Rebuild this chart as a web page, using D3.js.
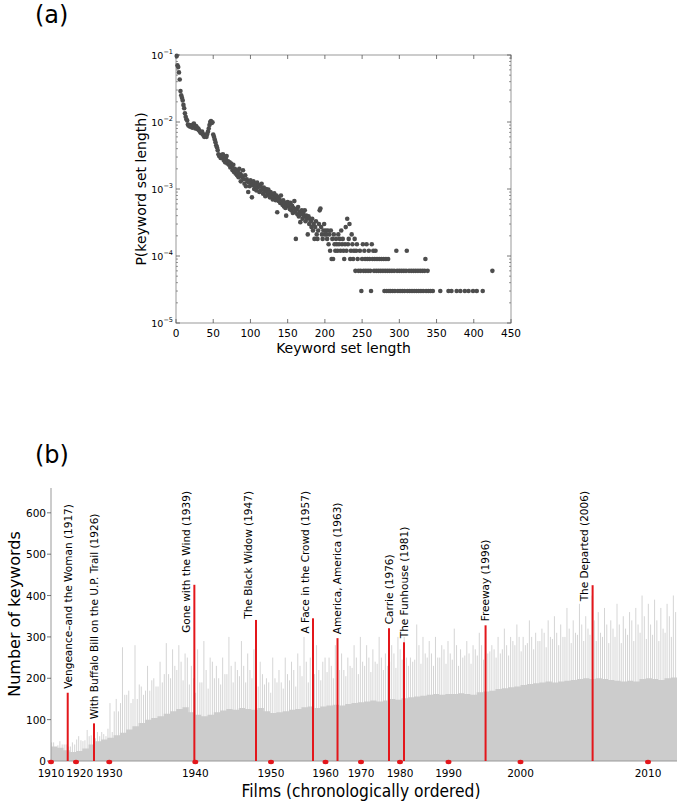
<!DOCTYPE html>
<html><head><meta charset="utf-8">
<script src="https://cdn.jsdelivr.net/npm/d3@7"></script>
<style>body{margin:0;background:#fff} svg{display:block} text{font-family:"DejaVu Sans",sans-serif;fill:#000}</style>
</head><body>
<svg id="chart" width="685" height="802"></svg>
<script>
// ---------- Panel (a) data ----------
const headProbs = [
 0.097,0.070,0.066,0.055,0.043,0.029,0.025,0.023,0.021,0.018,
 0.016,0.0135,0.012,0.011,0.0105,0.0092,0.0088,0.0090,0.0085,0.0089,
 0.0087,0.0082,0.0092,0.0095,0.0088,0.0080,0.0087,0.0083,0.0078,0.0080,
 0.0075,0.0072,0.0070,0.0068,0.0072,0.0066,0.0063,0.0060,0.0065,0.0062,
 0.0060,0.0066,0.0072,0.0080,0.0090,0.0100,0.0103,0.0097,0.0099,0.0065,
 0.0060,0.0055,0.0050,0.0045,0.0042,0.0038,0.0033,0.0031,0.0032,0.0029,
 3.2e-3,2.9e-3,3.3e-3,2.7e-3,3.0e-3,2.5e-3,2.8e-3,3.1e-3,2.4e-3,2.6e-3,
 2.3e-3,2.5e-3,2.1e-3,2.4e-3,2.2e-3,1.9e-3,2.3e-3,1.8e-3,2.0e-3,1.7e-3,
 1.9e-3,1.6e-3,1.8e-3,1.5e-3,2.0e-3,1.7e-3,1.3e-3,1.6e-3,1.5e-3,1.9e-3,
 1.4e-3,1.2e-3,1.6e-3,1.1e-3,1.4e-3,1.3e-3,9.0e-4,1.25e-3,1.1e-3,1.35e-3,
 1.2e-3,7.5e-4,1.15e-3,1.3e-3,1.0e-3,1.2e-3,1.1e-3,9.5e-4,1.25e-3,1.05e-3,
 1.15e-3,9e-4,1.1e-3,9.5e-4,1.2e-3,1.0e-3,8.5e-4,1.05e-3,9.5e-4,7.8e-4,
 1.0e-3,9e-4,8.2e-4,9.8e-4,8.8e-4,7.5e-4,9e-4,8.2e-4,8.5e-4,7e-4,
 7.8e-4,8.6e-4,7.2e-4,6.8e-4,8e-4,4.5e-4,7.5e-4,6.6e-4,7e-4,6.2e-4,
 8e-4,6.5e-4,5.8e-4,6.8e-4,5.5e-4,6.2e-4,5.2e-4,4e-4,5.8e-4,6.4e-4,
 5.5e-4,5.9e-4,5e-4,6.2e-4,4.8e-4,5.6e-4,4.4e-4,5.2e-4,6.6e-4,4.6e-4,
 1.8e-4,5.0e-4,4.2e-4,5.4e-4,3.9e-4,4.6e-4,3.2e-4,4.2e-4,4.8e-4,3.6e-4,
 4.4e-4,3.9e-4,4.8e-4,3.3e-4,4.0e-4,3.6e-4,2.1e-4,3.9e-4,3.0e-4,3.6e-4,
 3.3e-4,2.7e-4,3.6e-4,2.4e-4,3.0e-4,1.8e-4,2.7e-4,3.3e-4,2.1e-4,1.8e-4,
 2.4e-4,3.0e-4,4.8e-4,5.1e-4,2.7e-4,2.1e-4,1.8e-4,2.4e-4,3.0e-4,2.1e-4,
 2.4e-4,2.1e-4,1.8e-4,2.4e-4,1.5e-4,2.1e-4,1.2e-4,2.4e-4,9e-5,1.8e-4,
 9e-5,2.1e-4,1.5e-4,1.2e-4,1.8e-4,1.5e-4,1.2e-4,2.1e-4,1.5e-4,1.8e-4,
 1.2e-4,2.4e-4,1.5e-4,1.8e-4,1.2e-4,9e-5,1.5e-4,2.7e-4,1.2e-4,3.6e-4,
 1.5e-4,1.8e-4,3.0e-4,9e-5,1.2e-4,2.1e-4,1.5e-4,9e-5,1.2e-4,1.8e-4
];
const headLengths = d3.range(1, headProbs.length + 1);
const tailLevels = [3e-5, 6e-5, 9e-5, 1.2e-4, 1.5e-4];
const tailLengths = [
 [249,262,280,283,286,288,291,294,298,301,304,307,311,314,317,320,323,326,329,332,336,339,342,345,355,366,370,377,382,388,393,399,404,412],
 [241,245,248,252,255,258,261,266,269,272,275,278,281,284,287,290,293,297,300,303,306,309,313,316,319,322,325,328,331,334,338,425],
 [244,250,254,257,260,264,267,270,273,276,279,282,285,335],
 [242,247,253,259,265,268,296,310],
 [243,251,256,263]
];
const aXTicks = [0,50,100,150,200,250,300,350,400,450];
const aYExp = [-5,-4,-3,-2,-1];

// ---------- Panel (b) data ----------
const yearTicks = [1910,1920,1930,1940,1950,1960,1970,1980,1990,2000,2010];
const yearTickFilm = [0,399,931,2305,3514,4385,4952,5575,6350,7500,9537];
const bYTicks = [0,100,200,300,400,500,600];
const highlightTitles = ["Vengeance\u2013and the Woman (1917)","With Buffalo Bill on the U.P. Trail (1926)","Gone with the Wind (1939)","The Black Widow (1947)","A Face in the Crowd (1957)","America, America (1963)","Carrie (1976)","The Funhouse (1981)","Freeway (1996)","The Departed (2006)"];
const highlightFilm = [267,687,2290,3275,4185,4577,5399,5639,6942,8652];
const highlightKeywords = [165,91,426,341,345,297,321,287,328,425];
// background envelope, bins of 100 films (chronological order)
const binStart = d3.range(0, 10000, 100);
const bodyLevel = [35,32,26,22,24,30,40,48,52,56, 62,68,76,84,92,100,104,108,114,120,
 126,130,118,112,108,112,118,122,126,124, 128,126,124,128,120,116,118,120,124,126,
 130,132,128,132,134,136,134,138,140,142, 144,146,144,146,150,148,152,154,156,158,
 160,162,160,162,162,164,162,160,166,168, 170,174,176,178,180,184,186,188,190,192,
 190,192,194,196,198,200,198,200,198,196, 194,192,194,192,198,200,198,196,200,202];
const midLevel = [45,38,40,35,52,48,60,55,70,78, 120,140,160,150,185,170,195,180,210,200,
 220,195,185,165,190,175,200,185,210,190, 205,190,200,180,185,165,190,175,195,180,
 205,190,210,195,215,200,220,205,225,210, 230,215,235,220,240,225,245,230,245,235,
 250,230,250,235,245,230,255,235,255,245, 265,250,270,255,280,265,285,270,290,275,
 295,280,300,285,305,290,305,290,300,285, 300,285,305,290,310,295,305,290,310,300];
const peakA = [45,48,40,45,60,50,62,70,65,140, 150,275,170,280,180,230,200,240,285,270,
 280,260,230,270,290,250,230,250,300,240, 290,260,270,240,200,250,220,250,240,260,
 300,250,280,240,250,280,260,250,280,300, 280,270,300,260,280,300,300,250,330,300,
 290,300,280,290,320,270,290,280,310,300, 280,300,320,300,330,300,340,310,320,340,
 350,330,370,340,380,350,400,360,370,340, 380,350,360,370,400,380,390,370,380,400];
const peakB = [30,40,35,40,50,75,55,60,60,70, 120,160,140,150,160,170,180,190,210,230,
 240,250,200,190,220,240,200,210,230,220, 230,220,240,210,190,200,190,210,220,230,
 240,230,220,250,230,240,220,230,250,240, 250,240,250,230,260,270,250,240,280,260,
 260,250,270,260,280,250,260,270,280,260, 270,260,280,290,300,280,300,290,310,300,
 310,300,320,310,330,320,340,310,330,320, 330,320,340,330,350,330,340,320,350,360];

// ---------- Drawing ----------
const svg = d3.select("#chart");
const spineCol = "#999", tickCol = "#555";

// Panel (a)
const aL = 176, aR = 511, aT = 55, aB = 323;
const xa = d3.scaleLinear().domain([0,450]).range([aL,aR]);
const ya = d3.scaleLog().domain([1e-5,1e-1]).range([aB,aT]);
const ga = svg.append("g");
ga.append("rect").attr("x",aL).attr("y",aT).attr("width",aR-aL).attr("height",aB-aT)
  .attr("fill","none").attr("stroke",spineCol).attr("stroke-width",1);
aXTicks.forEach(v=>{
  const x = xa(v);
  ga.append("line").attr("x1",x).attr("x2",x).attr("y1",aB).attr("y2",aB-4).attr("stroke",tickCol).attr("stroke-width",0.8);
  ga.append("line").attr("x1",x).attr("x2",x).attr("y1",aT).attr("y2",aT+4).attr("stroke",tickCol).attr("stroke-width",0.8);
  ga.append("text").attr("x",x).attr("y",aB+14).attr("text-anchor","middle").attr("font-size",10.5).text(v);
});
aYExp.forEach(e=>{
  const y = ya(Math.pow(10,e));
  ga.append("line").attr("x1",aL).attr("x2",aL+4).attr("y1",y).attr("y2",y).attr("stroke",tickCol).attr("stroke-width",0.8);
  ga.append("line").attr("x1",aR).attr("x2",aR-4).attr("y1",y).attr("y2",y).attr("stroke",tickCol).attr("stroke-width",0.8);
  const t = ga.append("text").attr("x",aL-3).attr("y",y+4).attr("text-anchor","end").attr("font-size",9.5);
  t.append("tspan").text("10");
  t.append("tspan").attr("dy",-5).attr("font-size",6.5).text("\u2212"+(-e));
  if (e < -1) for (let m=2;m<=9;m++){
    const ym = ya(m*Math.pow(10,e));
    ga.append("line").attr("x1",aL).attr("x2",aL+2).attr("y1",ym).attr("y2",ym).attr("stroke",tickCol).attr("stroke-width",0.6);
    ga.append("line").attr("x1",aR).attr("x2",aR-2).attr("y1",ym).attr("y2",ym).attr("stroke",tickCol).attr("stroke-width",0.6);
  }
});
const pts = headLengths.map((l,i)=>({l, p: headProbs[i]}));
tailLevels.forEach((p,k)=>tailLengths[k].forEach(l=>pts.push({l,p})));
ga.selectAll("circle.pt").data(pts).enter().append("circle").attr("class","pt")
  .attr("cx",d=>xa(d.l)).attr("cy",d=>ya(d.p)).attr("r",2.3).attr("fill","#4d4d4d");
ga.append("text").attr("x",(aL+aR)/2).attr("y",aB+30).attr("text-anchor","middle").attr("font-size",14).text("Keyword set length");
ga.append("text").attr("transform",`translate(${aL-30},${(aT+aB)/2}) rotate(-90)`).attr("text-anchor","middle").attr("font-size",14).text("P(keyword set length)");
svg.append("text").attr("x",35).attr("y",23).attr("font-size",24).text("(a)");

// Panel (b)
const bL = 51, bR = 677, bT = 488, bB = 761;
const xb = d3.scaleLinear().domain([0,10000]).range([bL,bR]);
const yb = d3.scaleLinear().domain([0,660]).range([bB,bT]);
const gb = svg.append("g");
const bins = binStart.map((s,i)=>({s, body: bodyLevel[i], mid: midLevel[i], a: peakA[i], b: peakB[i]}));
const spike = (cls, off, key) => gb.selectAll("line."+cls).data(bins).enter().append("line").attr("class",cls)
  .attr("x1",d=>xb(d.s+off)).attr("x2",d=>xb(d.s+off)).attr("y1",bB).attr("y2",d=>yb(d[key]))
  .attr("stroke","#d0d0d0").attr("stroke-width",0.9);
spike("pm", 10, "mid"); spike("pa", 42, "a"); spike("pb", 78, "b");
gb.append("path").datum(bins.concat([{s:10000, body: bodyLevel[bodyLevel.length-1]}])).attr("fill","#cccccc")
  .attr("d", d3.area().curve(d3.curveStepAfter).x(d=>xb(d.s)).y0(bB).y1(d=>yb(d.body)));
// axes
gb.append("line").attr("x1",bL).attr("x2",bL).attr("y1",bT).attr("y2",bB).attr("stroke",spineCol);
gb.append("line").attr("x1",bL).attr("x2",bR).attr("y1",bB).attr("y2",bB).attr("stroke",spineCol);
bYTicks.forEach(v=>{
  const y = yb(v);
  gb.append("line").attr("x1",bL-4).attr("x2",bL).attr("y1",y).attr("y2",y).attr("stroke",tickCol).attr("stroke-width",0.8);
  gb.append("text").attr("x",bL-5).attr("y",y+4).attr("text-anchor","end").attr("font-size",10.5).text(v);
});
const red = "#e3161b";
highlightFilm.forEach((f,i)=>{
  const x = xb(f), yTop = yb(highlightKeywords[i]);
  gb.append("line").attr("x1",x).attr("x2",x).attr("y1",bB).attr("y2",yTop).attr("stroke",red).attr("stroke-width",2);
  const t = gb.append("text").attr("font-family","'Liberation Sans',Arial,sans-serif").attr("font-size",10.5).text(highlightTitles[i]);
  const w = t.node().getComputedTextLength();
  let bottom = yTop - 4, dx = 0;
  if (bottom - w < bT + 3) { bottom = bT + 3 + w; dx = -8; }
  t.attr("transform",`translate(${x+dx+3.8},${bottom}) rotate(-90)`);
});
let prevRight = -Infinity;
yearTickFilm.forEach((f,i)=>{
  const x = xb(f);
  gb.append("ellipse").attr("cx",x).attr("cy",bB+1).attr("rx",3).attr("ry",2.2).attr("fill",red);
  const t = gb.append("text").attr("x",x).attr("y",bB+16).attr("text-anchor","middle").attr("font-size",10.5).text(yearTicks[i]);
  const bb = t.node().getBBox();
  if (bb.x < prevRight + 2) { t.attr("x", x + (prevRight + 2 - bb.x)); }
  prevRight = t.node().getBBox().x + bb.width;
});
gb.append("text").attr("x",(bL+bR)/2 - 3).attr("y",bB+36).attr("text-anchor","middle").attr("font-size",17)
  .attr("textLength",239).attr("lengthAdjust","spacingAndGlyphs").text("Films (chronologically ordered)");
gb.append("text").attr("transform",`translate(20,614) rotate(-90)`).attr("text-anchor","middle").attr("font-size",16).text("Number of keywords");
svg.append("text").attr("x",35).attr("y",463).attr("font-size",24).text("(b)");
</script>
</body></html>
